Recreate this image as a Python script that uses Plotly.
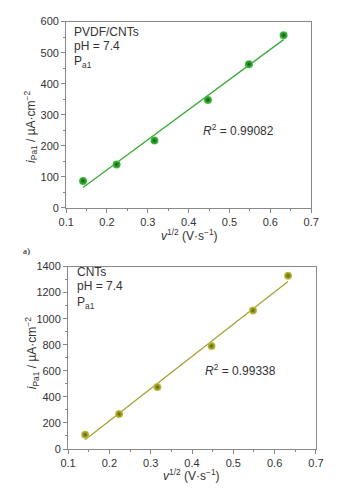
import plotly.graph_objects as go

# data
x_vals = [0.1414, 0.2236, 0.3162, 0.4472, 0.5477, 0.6325]
y_pvdf = [87, 140, 217, 348, 463, 556]
y_cnts = [110, 268, 475, 790, 1063, 1330]
fit_x = [0.1414, 0.6325]
fit_pvdf = [66, 542]
fit_cnts = [71, 1285]
x_ticks = [0.1, 0.2, 0.3, 0.4, 0.5, 0.6, 0.7]
y_ticks_top = [0, 100, 200, 300, 400, 500, 600]
y_ticks_bot = [0, 200, 400, 600, 800, 1000, 1200, 1400]

W, H = 343, 496
FONT = "Liberation Sans, Arial, sans-serif"
AXC = "#888888"

def px(x):
    return x / W

def py(y):
    return 1 - y / H

fig = go.Figure()

green_line = "#3daa3d"
green_dark = "#0a5c0a"
green_light = "#49c449"
olive_line = "#a3a336"
olive_dark = "#5e5e06"
olive_light = "#c8c84a"

fig.add_trace(go.Scatter(x=fit_x, y=fit_pvdf, mode="lines",
                         line=dict(color=green_line, width=1.3),
                         xaxis="x", yaxis="y", showlegend=False))
fig.add_trace(go.Scatter(x=x_vals, y=y_pvdf, mode="markers",
                         marker=dict(size=8, color=green_light,
                                     gradient=dict(type="radial", color=green_dark),
                                     line=dict(width=0)),
                         xaxis="x", yaxis="y", showlegend=False))
fig.add_trace(go.Scatter(x=fit_x, y=fit_cnts, mode="lines",
                         line=dict(color=olive_line, width=1.3),
                         xaxis="x2", yaxis="y2", showlegend=False))
fig.add_trace(go.Scatter(x=x_vals, y=y_cnts, mode="markers",
                         marker=dict(size=8, color=olive_light,
                                     gradient=dict(type="radial", color=olive_dark),
                                     line=dict(width=0)),
                         xaxis="x2", yaxis="y2", showlegend=False))

def xax(domain, anchor):
    return dict(domain=domain, anchor=anchor, range=[0.1, 0.7],
                tickvals=x_ticks, ticktext=[f"{v:.1f}" for v in x_ticks],
                ticks="outside", ticklen=4, tickwidth=1, tickcolor=AXC,
                minor=dict(dtick=0.05, ticks="outside", ticklen=2, tickcolor=AXC, showgrid=False),
                showline=True, linecolor=AXC, linewidth=1, mirror=True,
                showgrid=False, zeroline=False,
                tickfont=dict(family=FONT, size=11, color="#333333"))

def yax(domain, anchor, rng, ticks, minor):
    return dict(domain=domain, anchor=anchor, range=rng,
                tickvals=ticks, ticks="outside", ticklen=4, tickwidth=1, tickcolor=AXC,
                minor=dict(dtick=minor, ticks="outside", ticklen=2, tickcolor=AXC, showgrid=False),
                showline=True, linecolor=AXC, linewidth=1, mirror=True,
                showgrid=False, zeroline=False,
                tickfont=dict(family=FONT, size=11, color="#333333"))

fig.update_layout(
    width=W, height=H,
    margin=dict(l=0, r=0, t=0, b=0),
    paper_bgcolor="white", plot_bgcolor="white",
    xaxis=xax([px(61), px(318)], "y"),
    yaxis=yax([py(207), py(16)], "x", [0, 600], y_ticks_top, 50),
    xaxis2=xax([px(63), px(323)], "y2"),
    yaxis2=yax([py(454), py(267)], "x2", [0, 1400], y_ticks_bot, 100),
    font=dict(family=FONT, color="#333333"),
)

ann = []
def txt(x, y, t, size=12, xanchor="left", yanchor="middle", family=FONT, color="#333333", textangle=0):
    ann.append(dict(x=px(x), y=py(y), xref="paper", yref="paper", text=t,
                    showarrow=False, xanchor=xanchor, yanchor=yanchor,
                    font=dict(family=family, size=size, color=color), textangle=textangle))

# top panel
txt(67, 27, "PVDF/CNTs")
txt(67, 41, "pH = 7.4")
txt(67, 57, "P<sub>a1</sub>")
txt(202, 127, "<i>R</i><sup>2</sup> = 0.99082")
txt(190, 235, "<i>v</i><sup>1/2</sup> (V·s<sup>−1</sup>)", xanchor="center")
txt(24, 124, "<i>i</i><sub>Pa1</sub> / µA·cm<sup>−2</sup>", xanchor="center", textangle=-90)

# label
txt(14, 251, "a)", size=9, family="Liberation Serif, serif", color="#000000")

# bottom panel
txt(70, 273, "CNTs")
txt(70, 287, "pH = 7.4")
txt(70, 304, "P<sub>a1</sub>")
txt(205, 373, "<i>R</i><sup>2</sup> = 0.99338")
txt(193, 481, "<i>v</i><sup>1/2</sup> (V·s<sup>−1</sup>)", xanchor="center")
txt(26, 356, "<i>i</i><sub>Pa1</sub> / µA·cm<sup>−2</sup>", xanchor="center", textangle=-90)

fig.update_layout(annotations=ann)
fig.write_html("out.html")
